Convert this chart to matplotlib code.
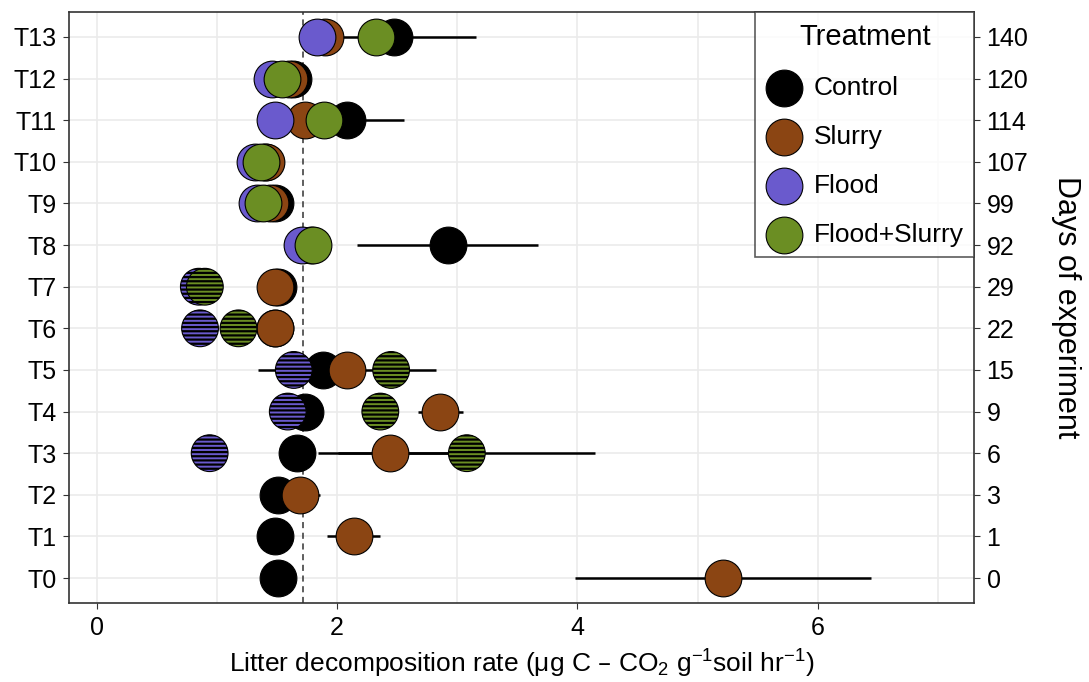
import matplotlib
matplotlib.use("Agg")
import matplotlib.pyplot as plt
import numpy as np

plt.rcParams["font.family"] = ["Liberation Sans", "DejaVu Sans"]
plt.rcParams["mathtext.default"] = "regular"
plt.rcParams["hatch.linewidth"] = 1.6

# time points (bottom to top)
timepoints = ["T0", "T1", "T2", "T3", "T4", "T5", "T6", "T7",
              "T8", "T9", "T10", "T11", "T12", "T13"]
days = ["0", "1", "3", "6", "9", "15", "22", "29",
        "92", "99", "107", "114", "120", "140"]

nan = np.nan
control = [1.51, 1.48, 1.51, 1.67, 1.73, 1.88, 1.48, 1.51,
           2.92, 1.48, 1.40, 2.08, 1.63, 2.47]
control_se = [0, 0, 0, 0.15, 0, 0, 0, 0,
              0.75, 0, 0, 0.48, 0, 0.69]
slurry = [5.21, 2.14, 1.69, 2.44, 2.86, 2.08, 1.48, 1.48,
          1.78, 1.44, 1.41, 1.73, 1.60, 1.90]
slurry_se = [1.23, 0.22, 0.17, 0.60, 0.19, 0.74, 0, 0,
             0, 0, 0, 0, 0, 0]
flood = [nan, nan, nan, 0.94, 1.59, 1.64, 0.86, 0.85,
         1.71, 1.33, 1.32, 1.48, 1.46, 1.83]
flood_se = [0, 0, 0, 0, 0, 0, 0, 0,
            0.15, 0, 0, 0, 0, 0]
flood_slurry = [nan, nan, nan, 3.08, 2.36, 2.45, 1.18, 0.90,
                1.80, 1.38, 1.37, 1.89, 1.54, 2.32]
flood_slurry_se = [0, 0, 0, 1.07, 0, 0, 0, 0,
                   0, 0, 0, 0, 0, 0]
# time points where flooded treatments are drawn striped
striped = ["T3", "T4", "T5", "T6", "T7"]
ref_line = 1.72

series = [
    ("Control", control, control_se, "#000000", False),
    ("Slurry", slurry, slurry_se, "#8B4513", False),
    ("Flood", flood, flood_se, "#6A5ACD", True),
    ("Flood+Slurry", flood_slurry, flood_slurry_se, "#6B8E23", True),
]

fig = plt.figure(figsize=(10.89, 6.82), dpi=100)
ax = fig.add_axes([0.0634, 0.1158, 0.8310, 0.8666])

y = np.arange(len(timepoints))
is_striped = np.array([t in striped for t in timepoints])

ax.axvline(ref_line, color="#333333", ls=(0, (4, 3)), lw=1.1, zorder=1)

for name, vals, se, col, hatchable in series:
    vals = np.asarray(vals, dtype=float)
    se = np.asarray(se, dtype=float)
    m = se > 0
    ax.errorbar(vals[m], y[m], xerr=se[m], fmt="none", ecolor="black",
                elinewidth=1.8, capsize=0, zorder=2)

z = 3
for name, vals, se, col, hatchable in series:
    vals = np.asarray(vals, dtype=float)
    plain = ~np.isnan(vals)
    if hatchable:
        plain = plain & ~is_striped
    ax.scatter(vals[plain], y[plain], s=700, c=col, edgecolors="black",
               linewidths=0.8, zorder=z, label=name)
    if hatchable:
        hm = is_striped & ~np.isnan(vals)
        ax.scatter(vals[hm], y[hm], s=700, c=col, edgecolors="black",
                   linewidths=0.8, hatch="----", zorder=z)
    z += 1

ax.set_xlim(-0.23, 7.3)
ax.set_ylim(-0.6, 13.6)
ax.set_xticks([0, 2, 4, 6])
ax.set_xticks([1, 3, 5, 7], minor=True)
ax.set_yticks(y)
ax.set_yticklabels(timepoints, fontsize=18)
ax.tick_params(axis="x", labelsize=18, length=4, color="#333333", pad=5)
ax.tick_params(axis="x", which="minor", length=0)
ax.tick_params(axis="y", length=4, color="#333333", pad=5)
ax.grid(True, which="both", color="#EBEBEB", lw=1.2, zorder=0)
ax.set_axisbelow(True)
for sp in ax.spines.values():
    sp.set_color("#333333")
    sp.set_linewidth(1.2)

ax.set_xlabel("Litter decomposition rate (μg C – CO$_2$ g$^{-1}$soil hr$^{-1}$)",
              fontsize=19, labelpad=6)

ax2 = ax.twinx()
ax2.set_ylim(ax.get_ylim())
ax2.set_yticks(y)
ax2.set_yticklabels(days, fontsize=18)
ax2.tick_params(axis="y", length=4, color="#333333", pad=5)
ax2.set_ylabel("Days of experiment", fontsize=22, rotation=270, labelpad=38)
for sp in ax2.spines.values():
    sp.set_visible(False)

leg = ax.legend(title="Treatment", loc="upper right", fontsize=19,
                title_fontsize=21, frameon=True, fancybox=False,
                edgecolor="#333333", markerscale=1.0, borderaxespad=0,
                handlelength=1.4, handletextpad=0.4, labelspacing=0.95,
                borderpad=0.4)
leg.get_frame().set_linewidth(1.2)
leg.set_zorder(10)

fig.savefig("out.png", dpi=100)
